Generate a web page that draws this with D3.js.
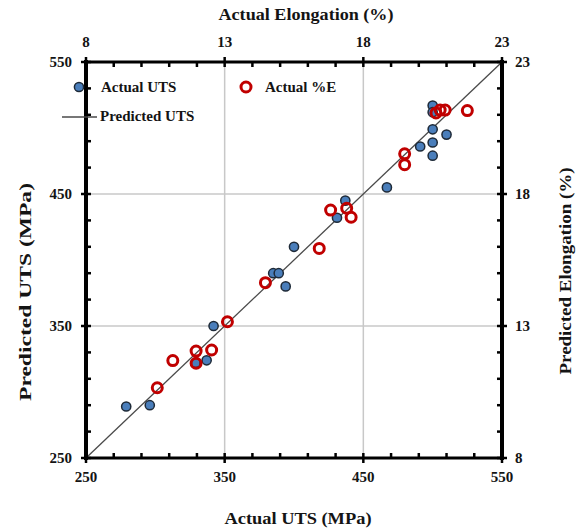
<!DOCTYPE html>
<html>
<head>
	<title> UTS and elongation </title>
	<script src="https://d3js.org/d3.v7.min.js"></script>
	<style>
		body { margin: 0; background: #fff; }
		text { font-family: "Liberation Serif", "Times New Roman", serif; font-weight: bold; fill: #141414; }
	</style>
</head>
<body>
	<svg width="588" height="532"></svg>
	<script type="text/javascript">
		// UTS (MPa): actual vs predicted
		let utsActual    = [279, 296, 342, 337, 329, 385, 389, 400, 394, 467, 437, 431, 491, 500, 500, 500, 510, 500, 500];
		let utsPredicted = [289, 290, 350, 324, 322, 390, 390, 410, 380, 455, 445, 432, 486, 489, 479, 499, 495, 517, 512];
		// Elongation (%): actual vs predicted
		let elActual    = [10.57, 11.13, 11.97, 11.97, 12.53, 13.1, 14.47, 16.41, 16.82, 17.4, 17.56, 19.49, 19.49, 20.62, 20.77, 20.95, 21.75];
		let elPredicted = [10.66, 11.69, 12.05, 11.59, 12.09, 13.16, 14.64, 15.94, 17.39, 17.46, 17.12, 19.52, 19.11, 21.07, 21.18, 21.18, 21.16];
		let utsTicks = [250, 350, 450, 550];
		let elTicks = [8, 13, 18, 23];
		let fitLine = [250, 550];

		let svg = d3.select("svg");
		let pL = 86, pR = 502, pT = 62, pB = 458;

		let x = d3.scaleLinear().domain([250, 550]).range([pL, pR]);
		let y = d3.scaleLinear().domain([250, 550]).range([pB, pT]);
		let x2 = d3.scaleLinear().domain([8, 23]).range([pL, pR]);
		let y2 = d3.scaleLinear().domain([8, 23]).range([pB, pT]);

		// grid lines
		let grid = svg.append("g").attr("stroke", "#c8c8c8").attr("stroke-width", 1.5);
		[350, 450].forEach(function(v) {
			grid.append("line").attr("x1", x(v)).attr("x2", x(v)).attr("y1", pT).attr("y2", pB);
			grid.append("line").attr("x1", pL).attr("x2", pR).attr("y1", y(v)).attr("y2", y(v));
		});

		// predicted = actual line
		svg.append("line")
			.attr("x1", x(fitLine[0])).attr("y1", y(fitLine[0]))
			.attr("x2", x(fitLine[1])).attr("y2", y(fitLine[1]))
			.attr("stroke", "#4a4a4a").attr("stroke-width", 1.3);

		// minor ticks (inward) and frame
		let tk = svg.append("g").attr("stroke", "#000").attr("stroke-width", 2.5);
		d3.range(250, 551, 20).forEach(function(v) {
			tk.append("line").attr("x1", x(v)).attr("x2", x(v)).attr("y1", pB + (v % 100 == 50 ? 5 : 0)).attr("y2", pB - 5);
			tk.append("line").attr("x1", pL - (v % 100 == 50 ? 5 : 0)).attr("x2", pL + 5).attr("y1", y(v)).attr("y2", y(v));
		});
		d3.range(8, 23.5, 1).forEach(function(v) {
			let major = (v - 8) % 5 == 0;
			tk.append("line").attr("x1", x2(v)).attr("x2", x2(v)).attr("y1", pT - (major ? 5 : 0)).attr("y2", pT + 5);
			tk.append("line").attr("x1", pR + (major ? 5 : 0)).attr("x2", pR - 5).attr("y1", y2(v)).attr("y2", y2(v));
		});
		svg.append("line").attr("x1", pL - 2).attr("x2", pR + 2).attr("y1", pT).attr("y2", pT).attr("stroke", "#000").attr("stroke-width", 3);
		svg.append("line").attr("x1", pL - 2).attr("x2", pR + 2).attr("y1", pB).attr("y2", pB).attr("stroke", "#000").attr("stroke-width", 3);
		svg.append("line").attr("x1", pL).attr("x2", pL).attr("y1", pT - 2).attr("y2", pB + 2).attr("stroke", "#000").attr("stroke-width", 4);
		svg.append("line").attr("x1", pR).attr("x2", pR).attr("y1", pT - 2).attr("y2", pB + 2).attr("stroke", "#000").attr("stroke-width", 4);

		// tick labels
		utsTicks.forEach(function(v) {
			svg.append("text").attr("x", x(v)).attr("y", pB + 24).attr("text-anchor", "middle").attr("font-size", 15).text(v);
			svg.append("text").attr("x", pL - 14).attr("y", y(v) + 5).attr("text-anchor", "end").attr("font-size", 15).text(v);
		});
		elTicks.forEach(function(v) {
			svg.append("text").attr("x", x2(v)).attr("y", pT - 15).attr("text-anchor", "middle").attr("font-size", 15).text(v);
			svg.append("text").attr("x", pR + 13).attr("y", y2(v) + 5).attr("text-anchor", "start").attr("font-size", 15).text(v);
		});

		// axis titles
		function title(tx, ty, rot, size, len, str) {
			svg.append("text").attr("transform", "translate(" + tx + "," + ty + ") rotate(" + rot + ")")
				.attr("x", -len / 2).attr("font-size", size)
				.attr("textLength", len).attr("lengthAdjust", "spacingAndGlyphs")
				.text(str);
		}
		title(298, 524, 0, 16, 147, "Actual  UTS (MPa)");
		title(306, 20, 0, 16, 175, "Actual  Elongation (%)");
		title(31, 292, -90, 16, 218, "Predicted UTS (MPa)");
		title(571, 271, -90, 16, 207, "Predicted Elongation (%)");

		// points
		svg.append("g").selectAll("circle").data(utsActual).enter().append("circle")
			.attr("cx", function(d) { return x(d); })
			.attr("cy", function(d, i) { return y(utsPredicted[i]); })
			.attr("r", 4.6).attr("fill", "#4a7ebb").attr("stroke", "#1e2a38").attr("stroke-width", 1.5);
		svg.append("g").selectAll("circle").data(elActual).enter().append("circle")
			.attr("cx", function(d) { return x2(d); })
			.attr("cy", function(d, i) { return y2(elPredicted[i]); })
			.attr("r", 5).attr("fill", "none").attr("stroke", "#c00000").attr("stroke-width", 3);

		// legend
		svg.append("circle").attr("cx", 79).attr("cy", 87).attr("r", 4.6).attr("fill", "#4a7ebb").attr("stroke", "#1e2a38").attr("stroke-width", 1.5);
		svg.append("text").attr("x", 101).attr("y", 92).attr("font-size", 15).text("Actual UTS");
		svg.append("line").attr("x1", 62).attr("x2", 97).attr("y1", 117).attr("y2", 117).attr("stroke", "#4a4a4a").attr("stroke-width", 1.3);
		svg.append("text").attr("x", 100).attr("y", 121).attr("font-size", 15).text("Predicted UTS");
		svg.append("circle").attr("cx", 246).attr("cy", 87).attr("r", 5).attr("fill", "none").attr("stroke", "#c00000").attr("stroke-width", 3);
		svg.append("text").attr("x", 265).attr("y", 92).attr("font-size", 15).text("Actual %E");
	</script>
</body>
</html>
